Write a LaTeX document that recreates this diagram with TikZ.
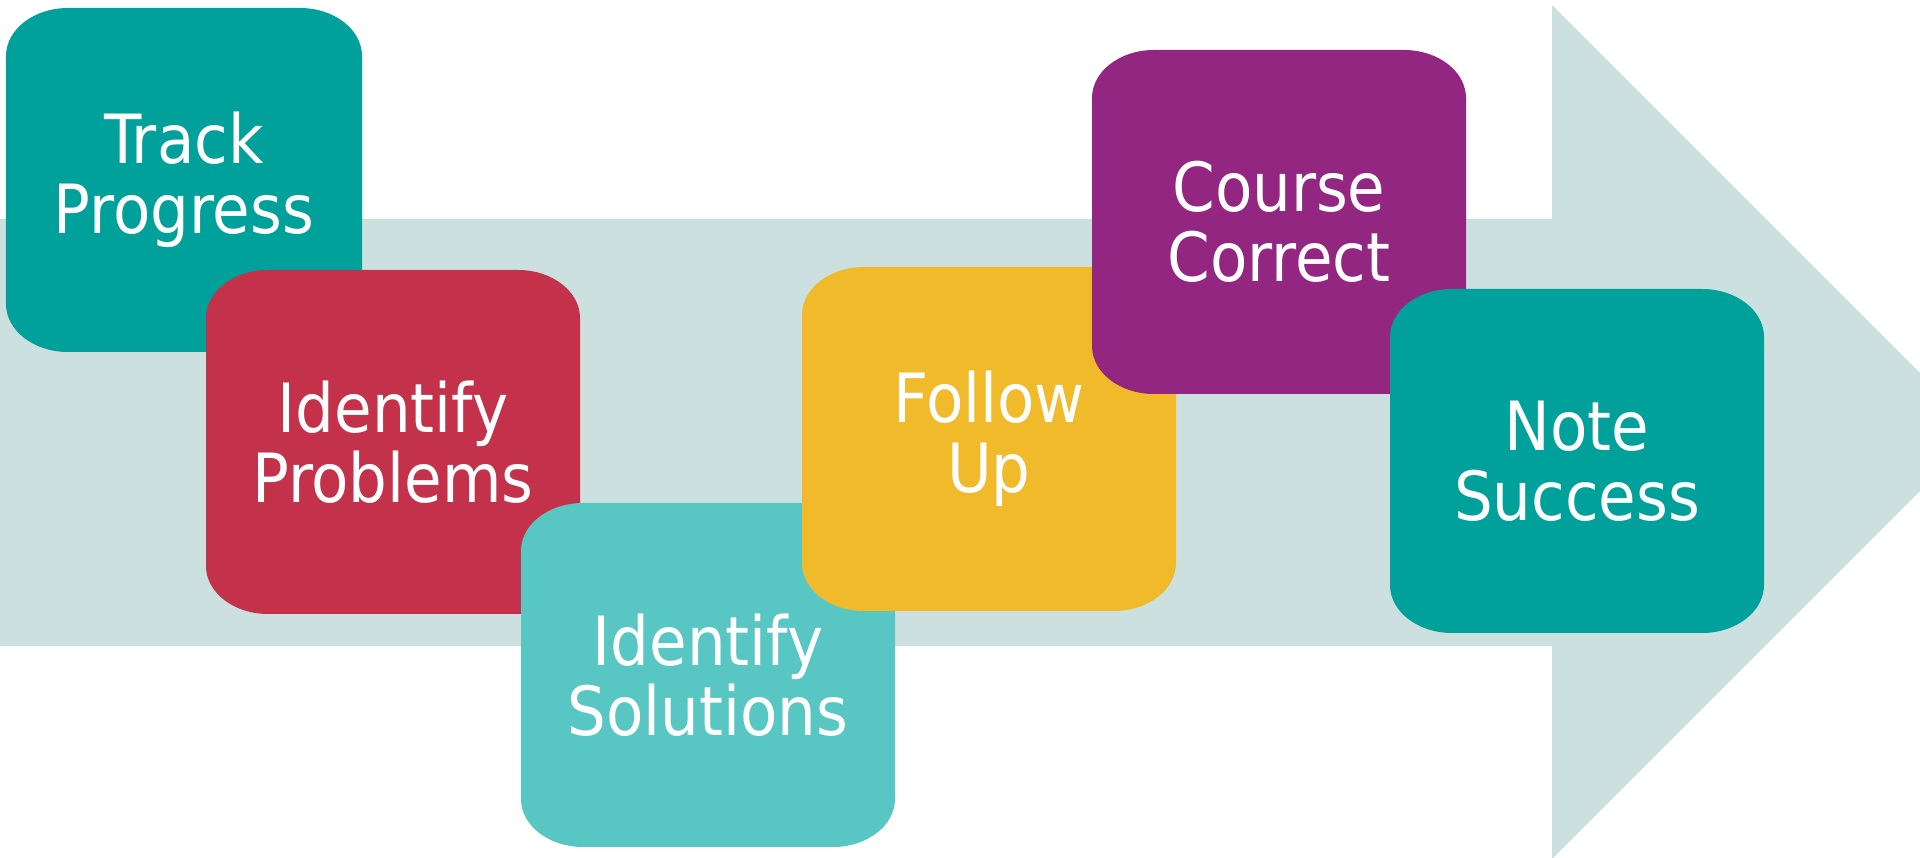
\documentclass[tikz,border=0pt]{standalone}
\usepackage{fontspec}
\setmainfont{DejaVu Sans Condensed}
\usepackage{tikz}
\definecolor{bandgray}{RGB}{204,224,223}
\definecolor{tealdark}{RGB}{0,161,154}
\definecolor{rosered}{RGB}{195,50,74}
\definecolor{teallight}{RGB}{88,199,196}
\definecolor{sunyellow}{RGB}{240,186,43}
\definecolor{plum}{RGB}{147,38,128}

\begin{document}
\begin{tikzpicture}[x=0.01cm, y=-0.01cm,
  steptext/.style={inner sep=0pt, align=center, text=white,
    font=\fontsize{19.3}{19.9}\selectfont}]
\useasboundingbox (0,0) rectangle (1920,858);
\clip (0,0) rectangle (1920,858);
% big arrow in the back
\fill[bandgray] (0,219) -- (1552,219) -- (1552,5) -- (1979,432)
  -- (1552,859) -- (1552,646) -- (0,646) -- cycle;
% the six steps, drawn left to right so each one lies on the one before
\foreach \name/\cx/\cy/\hw/\col/\txt in {
  track/184/180/178/tealdark/{Track\\Progress},
  problems/393/442/187/rosered/{Identify\\Problems},
  solutions/708/675/187/teallight/{Identify\\Solutions},
  follow/989/439/187/sunyellow/{Follow\\Up},
  course/1279/222/187/plum/{Course\\Correct},
  note/1577/461/187/tealdark/{Note\\Success}}{
  \fill[\col] (\cx-\hw+62,\cy-172) -- (\cx+\hw-62,\cy-172)
    arc[start angle=-90, end angle=0, x radius=62, y radius=48]
    -- (\cx+\hw,\cy+172-48)
    arc[start angle=0, end angle=90, x radius=62, y radius=48]
    -- (\cx-\hw+62,\cy+172)
    arc[start angle=90, end angle=180, x radius=62, y radius=48]
    -- (\cx-\hw,\cy-172+48)
    arc[start angle=180, end angle=270, x radius=62, y radius=48]
    -- cycle;
  \node[steptext] (\name) at (\cx,\cy) {\txt};
}
\end{tikzpicture}
\end{document}
